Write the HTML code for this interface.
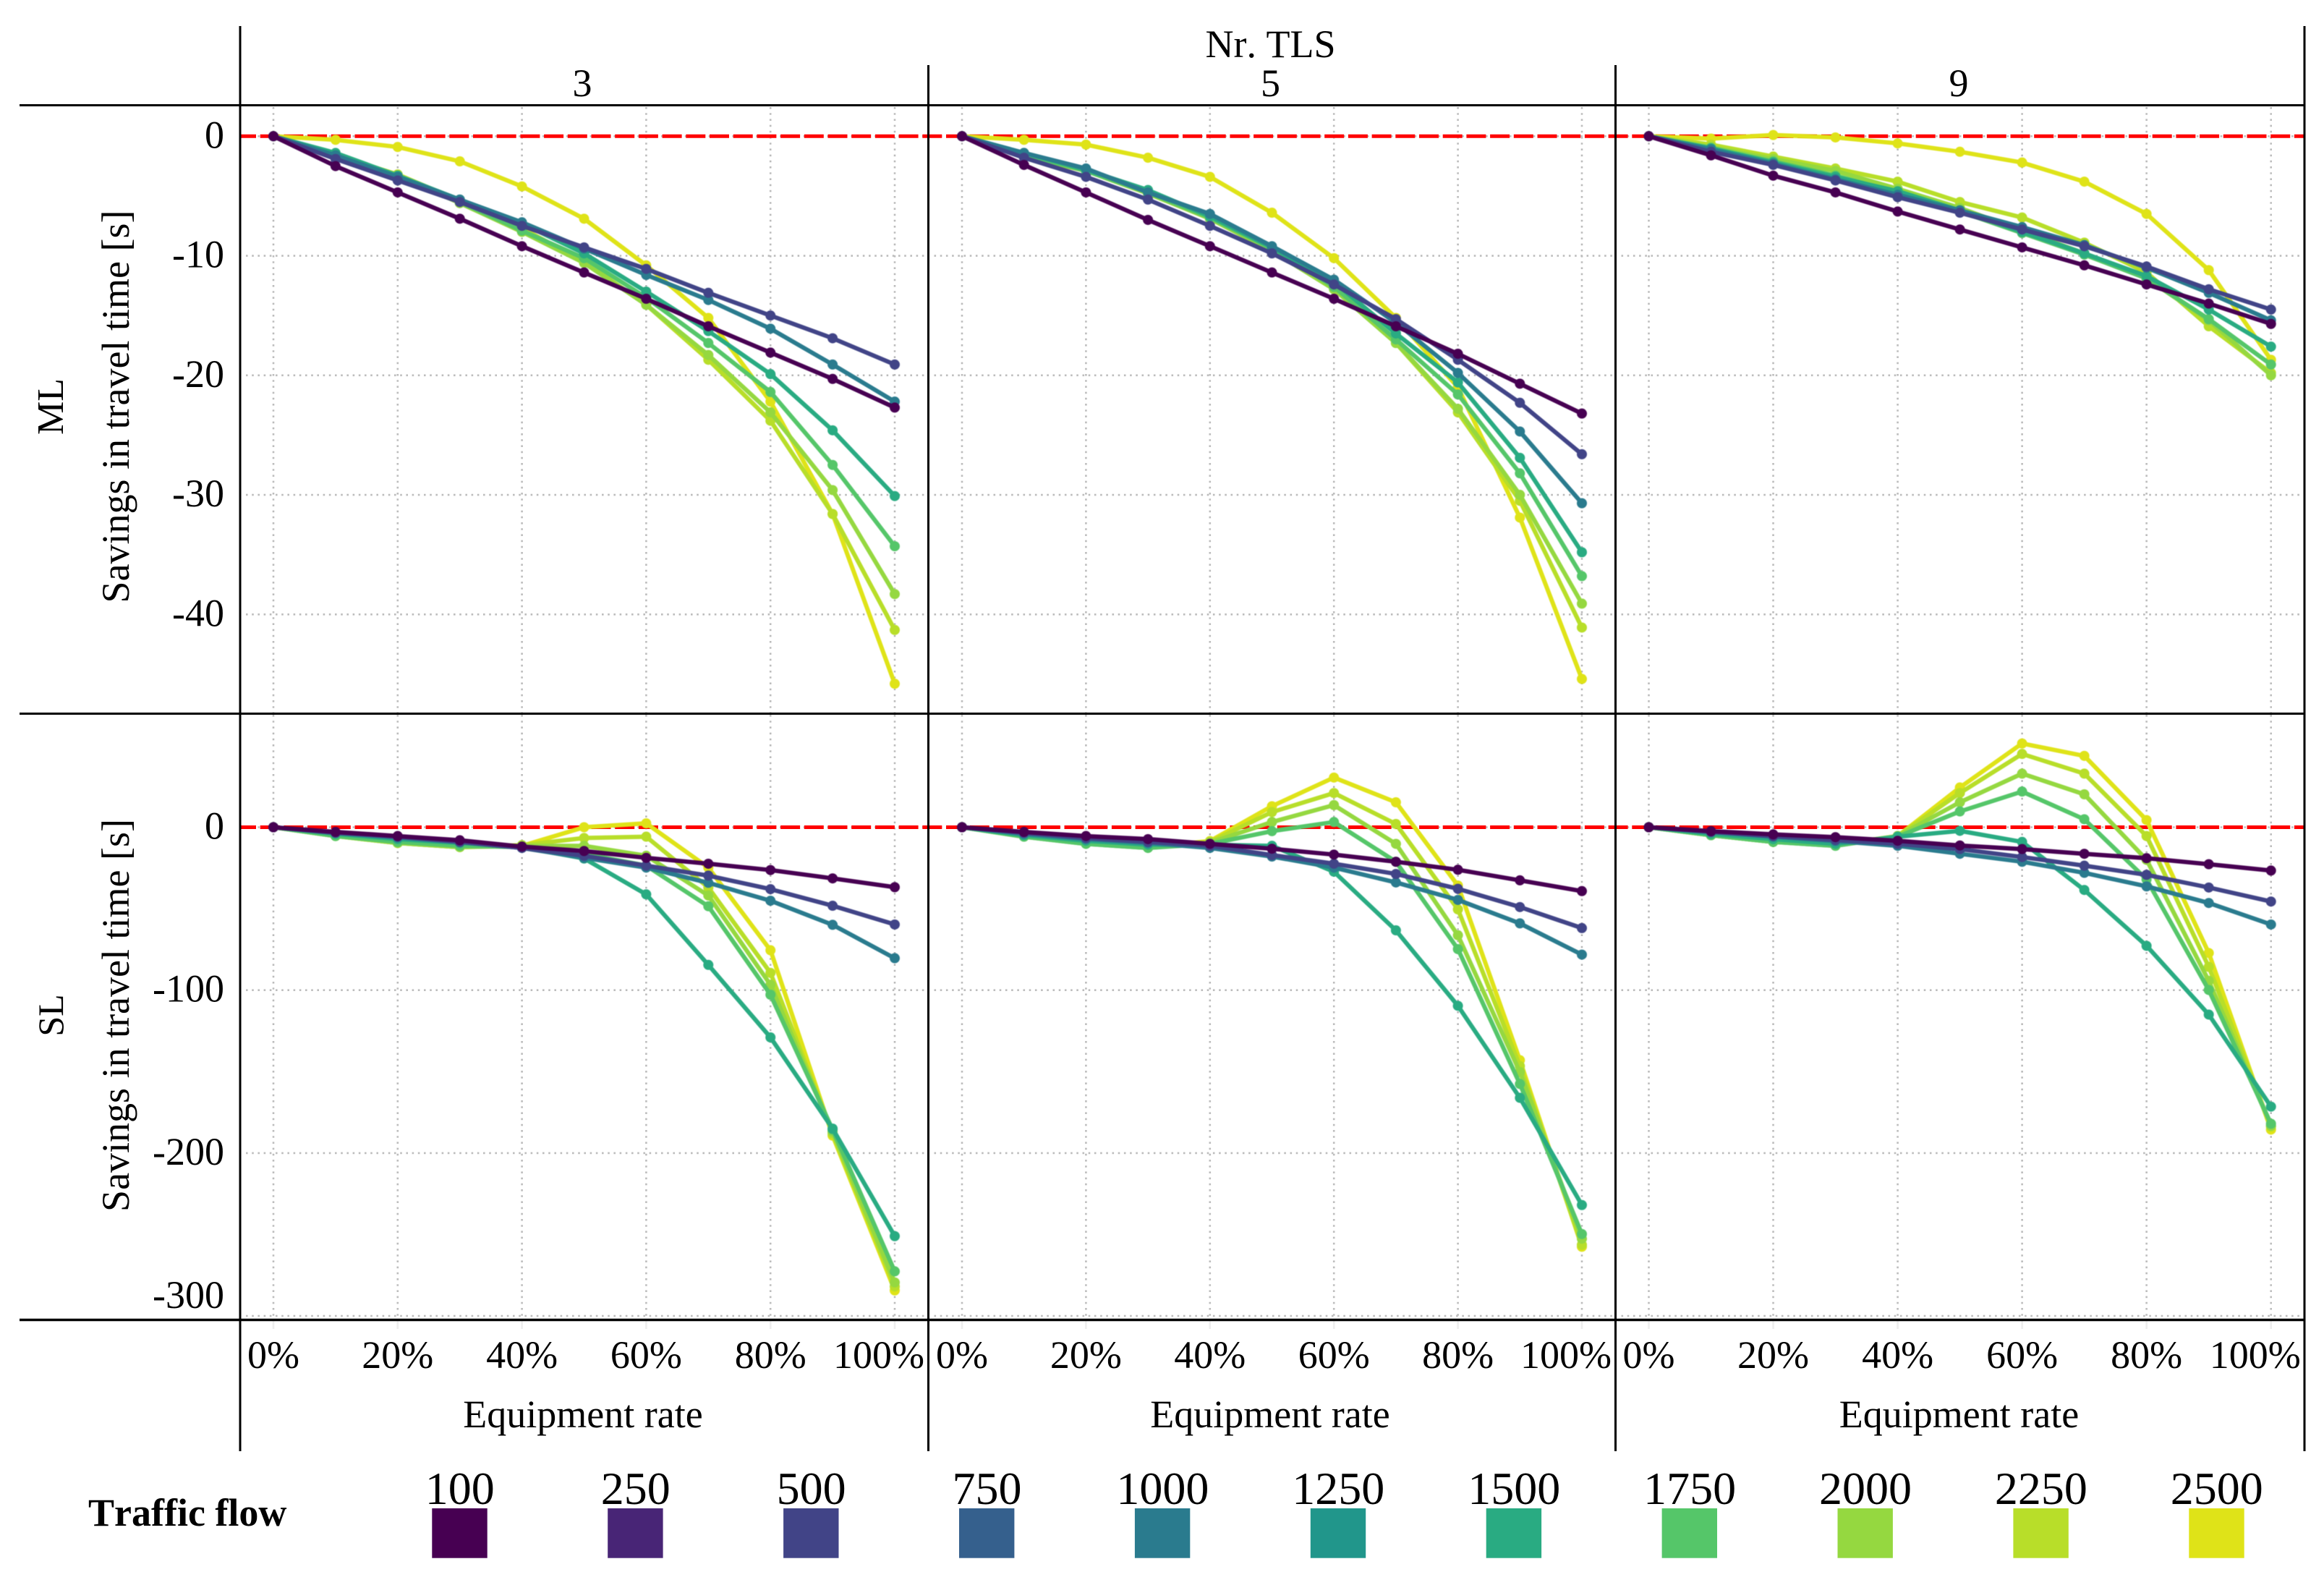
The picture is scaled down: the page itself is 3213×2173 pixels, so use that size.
<!DOCTYPE html>
<html lang="en">
<head>
<meta charset="utf-8">
<title>Savings in travel time by equipment rate</title>
<style>
html,body{margin:0;padding:0;background:#fff;}
svg{display:block;}
text{font-family:"Liberation Serif",serif;fill:#000;font-size:54px;font-kerning:none;font-variant-ligatures:none;}
</style>
</head>
<body>
<svg id="chart" xmlns="http://www.w3.org/2000/svg" width="3213" height="2173" viewBox="0 0 3213 2173">
  <rect x="0" y="0" width="3213" height="2173" fill="#fff"/>
  <g id="grid-layer"></g>
  <g id="reference-layer"></g>
  <g id="series-layer" style="filter:blur(0.6px)"></g>
  <g stroke="#000" stroke-width="3" fill="none">
    <line x1="27" y1="145.5" x2="3187" y2="145.5"/>
    <line x1="27" y1="986.5" x2="3187" y2="986.5"/>
    <line x1="27" y1="1824.5" x2="3187" y2="1824.5" stroke-width="3.5"/>
    <line x1="332" y1="36" x2="332" y2="2006"/>
    <line x1="1283.5" y1="90" x2="1283.5" y2="2006"/>
    <line x1="2233.5" y1="90" x2="2233.5" y2="2006"/>
    <line x1="3186" y1="36" x2="3186" y2="2006"/>
  </g>
  <text x="1756.5" y="79" text-anchor="middle">Nr. TLS</text>
  <text x="805" y="133" text-anchor="middle">3</text>
  <text x="1756.5" y="133" text-anchor="middle">5</text>
  <text x="2708" y="133" text-anchor="middle">9</text>
  <text transform="translate(87,562) rotate(-90)" text-anchor="middle" style="font-size:52px">ML</text>
  <text transform="translate(87,1403.5) rotate(-90)" text-anchor="middle" style="font-size:50px">SL</text>
  <text transform="translate(178,562) rotate(-90)" text-anchor="middle">Savings in travel time [s]</text>
  <text transform="translate(178,1403.5) rotate(-90)" text-anchor="middle">Savings in travel time [s]</text>
  <text x="806" y="1973" text-anchor="middle">Equipment rate</text>
  <text x="1756" y="1973" text-anchor="middle">Equipment rate</text>
  <text x="2708.5" y="1973" text-anchor="middle">Equipment rate</text>
  <g id="tick-layer"></g>
  <text x="122" y="2109" style="font-weight:700">Traffic flow</text>
  <g id="legend-layer"></g>
</svg>
<script>
// Categories and tick labels
const equipmentRates = [0, 10, 20, 30, 40, 50, 60, 70, 80, 90, 100];
const xTickValues = [0, 20, 40, 60, 80, 100];
const xTickLabels = ['0%', '20%', '40%', '60%', '80%', '100%'];
const mlTickValues = [0, -10, -20, -30, -40];
const slTickValues = [0, -100, -200, -300];
const legendFlows = ['100', '250', '500', '750', '1000', '1250', '1500', '1750', '2000', '2250', '2500'];
const plottedFlows = ['100', '500', '1000', '1500', '1750', '2000', '2250', '2500'];

// Series values: one row per plotted flow, same order as plottedFlows
const mlTls3 = [
  [0, -2.5, -4.7, -6.9, -9.2, -11.4, -13.6, -15.9, -18.1, -20.3, -22.7],
  [0, -1.9, -3.7, -5.5, -7.5, -9.3, -11.1, -13.1, -15, -16.9, -19.1],
  [0, -1.6, -3.4, -5.3, -7.2, -9.4, -11.6, -13.7, -16.1, -19.1, -22.2],
  [0, -1.4, -3.3, -5.3, -7.3, -9.8, -13, -16.3, -19.9, -24.6, -30.1],
  [0, -1.5, -3.3, -5.5, -7.9, -10.2, -13.5, -17.3, -21.4, -27.5, -34.3],
  [0, -1.5, -3.3, -5.6, -8, -10.6, -14.1, -18.3, -23.1, -29.6, -38.3],
  [0, -1.6, -3.2, -5.4, -7.7, -10.5, -14.1, -18.7, -23.8, -31.6, -41.3],
  [0, -0.3, -0.9, -2.1, -4.2, -6.9, -10.8, -15.2, -22.2, -31.6, -45.8]
];
const mlTls5 = [
  [0, -2.4, -4.7, -7, -9.2, -11.4, -13.6, -15.9, -18.2, -20.7, -23.2],
  [0, -1.8, -3.4, -5.3, -7.5, -9.8, -12.4, -15.3, -18.7, -22.3, -26.6],
  [0, -1.4, -2.7, -4.7, -6.5, -9.2, -12, -15.6, -19.8, -24.7, -30.7],
  [0, -1.4, -2.8, -4.5, -6.7, -9.3, -12.2, -16.5, -20.6, -26.9, -34.8],
  [0, -1.5, -2.9, -4.7, -6.8, -9.4, -12.6, -17, -21.6, -28.2, -36.8],
  [0, -1.6, -2.9, -4.8, -6.9, -9.6, -12.8, -17.3, -22.8, -30, -39.1],
  [0, -1.7, -2.9, -4.6, -6.7, -9.4, -12.7, -17.3, -23.1, -30.5, -41.1],
  [0, -0.3, -0.7, -1.8, -3.4, -6.4, -10.2, -15.2, -21, -31.9, -45.4]
];
const mlTls9 = [
  [0, -1.6, -3.3, -4.7, -6.3, -7.8, -9.3, -10.8, -12.4, -14, -15.7],
  [0, -1.3, -2.4, -3.7, -5.1, -6.4, -7.8, -9.2, -10.9, -12.8, -14.5],
  [0, -1.1, -2.3, -3.6, -4.9, -6.2, -7.6, -9.1, -11, -13.1, -15.4],
  [0, -1, -2.2, -3.4, -4.6, -6.2, -8, -9.8, -11.7, -14.5, -17.6],
  [0, -1, -2.1, -3.3, -4.7, -6.3, -8.1, -9.9, -11.9, -15.3, -19.1],
  [0, -0.9, -1.9, -2.9, -4.4, -6, -7.9, -9.8, -11.9, -15.4, -20],
  [0, -0.7, -1.7, -2.7, -3.8, -5.5, -6.8, -8.9, -11.4, -15.9, -19.8],
  [0, -0.2, 0.1, -0.1, -0.6, -1.3, -2.2, -3.8, -6.5, -11.2, -18.7]
];
const slTls3 = [
  [0, -2.9, -5.4, -8, -11.9, -14.6, -18.8, -22.4, -26.3, -31.4, -36.8],
  [0, -3.4, -5.8, -9, -12.7, -17.5, -23.6, -29.7, -38, -48.2, -59.7],
  [0, -3.4, -6.3, -9, -12.7, -18.8, -24.8, -34.1, -45.1, -59.9, -80.4],
  [0, -4.1, -7.3, -9.7, -12.2, -19.2, -41.2, -84.5, -129, -185, -251],
  [0, -5.4, -9, -11.4, -12.2, -16.3, -23.6, -48.5, -102.8, -185.6, -272.6],
  [0, -5.4, -9.7, -12.2, -11.4, -11.4, -17.5, -41.9, -96.7, -186.8, -279.4],
  [0, -5.4, -9.7, -12.2, -11, -6.6, -5.8, -37, -89.4, -188, -281.9],
  [0, -5.4, -9.7, -12.2, -11.4, 0, 2.4, -24.8, -75.5, -189.3, -284.3]
];
const slTls5 = [
  [0, -2.9, -5.4, -7.3, -10.2, -13.2, -16.8, -21.2, -26.1, -32.6, -39.2],
  [0, -3.4, -6.6, -9, -11.4, -17.1, -22.4, -28.7, -37.8, -49, -61.9],
  [0, -4.1, -7.3, -9.7, -12.7, -18, -24.8, -33.9, -44.6, -59, -78.2],
  [0, -4.9, -8.3, -10.7, -10.7, -11.4, -27.3, -63.3, -109.6, -166.1, -231.9],
  [0, -5.8, -10.2, -12.7, -10.2, -2.4, 3.2, -21.2, -74.8, -157.6, -249.7],
  [0, -5.8, -10.2, -12.7, -9.5, 3.2, 13.6, -10.2, -66.3, -150.3, -252.6],
  [0, -5.4, -9.7, -12.2, -9, 9.3, 21, 2, -50.4, -146.6, -256.3],
  [0, -5.4, -9.7, -12.2, -8.5, 12.9, 30.5, 15.3, -35.8, -143, -257.5]
];
const slTls9 = [
  [0, -2.4, -4.4, -6.1, -8.3, -11.2, -13.4, -16.3, -19, -22.7, -26.6],
  [0, -2.9, -5.4, -7.8, -10.2, -13.4, -18.3, -23.6, -29.2, -37, -45.6],
  [0, -2.9, -5.8, -8.5, -11.4, -16.3, -21.2, -28, -36.3, -46.5, -59.7],
  [0, -4.1, -7.3, -10.2, -5.8, -2.2, -9, -38.5, -72.8, -115, -171.5],
  [0, -4.9, -9, -11.4, -5.8, 9.7, 21.9, 4.9, -32, -99.9, -182],
  [0, -4.9, -9, -11.4, -5.4, 15.3, 32.9, 20.2, -20, -94.3, -183.2],
  [0, -4.9, -9, -10.7, -5.4, 21, 45, 32.9, -5.4, -85.7, -183.7],
  [0, -4.9, -9, -10.7, -5.4, 24.4, 51.4, 43.8, 4.4, -77.2, -185.6]
];

// Styling lookup, separate from the data
const flowColor = {
  '100': '#470052', '250': '#482576', '500': '#414487', '750': '#35608d',
  '1000': '#2a7b8e', '1250': '#21968b', '1500': '#29ab82', '1750': '#55c669',
  '2000': '#95d840', '2250': '#b8de29', '2500': '#dfe318'
};

const SVG_NS = 'http://www.w3.org/2000/svg';
function make(tag, parent) {
  const el = document.createElementNS(SVG_NS, tag);
  parent.appendChild(el);
  return el;
}

// Axis functions
function xAxis(col, rate) {
  const left = [378, 1330, 2279.5][col];
  const right = [1237, 2187, 3139.7][col];
  return left + (right - left) * rate / 100;
}
function yAxis(row, value) {
  if (row === 0) return 188.3 - value * 16.525;
  return 1143.5 - value * 2.252;
}

const gridLayer = document.getElementById('grid-layer');
const referenceLayer = document.getElementById('reference-layer');
const seriesLayer = document.getElementById('series-layer');
const tickLayer = document.getElementById('tick-layer');
const legendLayer = document.getElementById('legend-layer');

const columnEdges = [[332, 1283.5], [1283.5, 2233.5], [2233.5, 3186]];
const rowEdges = [[148, 985], [988, 1823]];
const rowTicks = [mlTickValues, slTickValues];
const rowNames = ['ml', 'sl'];
const columnNames = ['3', '5', '9'];
const panelData = [[mlTls3, mlTls5, mlTls9], [slTls3, slTls5, slTls9]];

function setGridStyle(line) {
  line.setAttribute('stroke', '#bdbdbd');
  line.setAttribute('stroke-width', '2.6');
  line.setAttribute('stroke-dasharray', '2.6 5.6');
}

// Grid lines
rowTicks.forEach(function (ticks, row) {
  columnEdges.forEach(function (edges, col) {
    ticks.forEach(function (value) {
      const line = make('line', gridLayer);
      
      
      line.setAttribute('x1', edges[0] + 8);
      line.setAttribute('x2', edges[1] - 3);
      line.setAttribute('y1', yAxis(row, value));
      line.setAttribute('y2', yAxis(row, value));
      setGridStyle(line);
    });
    xTickValues.forEach(function (rate) {
      const line = make('line', gridLayer);
      
      
      line.setAttribute('x1', xAxis(col, rate));
      line.setAttribute('x2', xAxis(col, rate));
      line.setAttribute('y1', rowEdges[row][0]);
      line.setAttribute('y2', rowEdges[row][1]);
      setGridStyle(line);
    });
  });
});

// Faint tick stubs under the lower panels
columnEdges.forEach(function (edges, col) {
  xTickValues.forEach(function (rate) {
    const stub = make('line', gridLayer);
    
    
    stub.setAttribute('x1', xAxis(col, rate));
    stub.setAttribute('x2', xAxis(col, rate));
    stub.setAttribute('y1', 1826);
    stub.setAttribute('y2', 1837);
    stub.setAttribute('stroke', '#eeeeee');
    stub.setAttribute('stroke-width', '2.6');
  });
});

// Zero reference lines
rowNames.forEach(function (name, row) {
  const ref = make('line', referenceLayer);
  
  
  ref.setAttribute('x1', 332);
  ref.setAttribute('x2', 3186);
  ref.setAttribute('y1', yAxis(row, 0));
  ref.setAttribute('y2', yAxis(row, 0));
  ref.setAttribute('stroke', '#ff0000');
  ref.setAttribute('stroke-width', '5');
  ref.setAttribute('stroke-dasharray', '27 5.7');
  ref.setAttribute('stroke-dashoffset', '5');
});

// Series: last flow first, so the darkest line ends on top
panelData.forEach(function (rowPanels, row) {
  rowPanels.forEach(function (panelSeries, col) {
    for (let s = panelSeries.length - 1; s >= 0; s--) {
      const flow = plottedFlows[s];
      const values = panelSeries[s];
      const group = make('g', seriesLayer);
      
      
      const points = values.map(function (v, i) {
        return xAxis(col, equipmentRates[i]).toFixed(1) + ',' + yAxis(row, v).toFixed(1);
      }).join(' ');
      const poly = make('polyline', group);
      
      
      poly.setAttribute('points', points);
      poly.setAttribute('fill', 'none');
      poly.setAttribute('stroke', flowColor[flow]);
      poly.setAttribute('stroke-width', '6');
      poly.setAttribute('stroke-linejoin', 'round');
      values.forEach(function (v, i) {
        const dot = make('circle', group);
        
        
        dot.setAttribute('cx', xAxis(col, equipmentRates[i]));
        dot.setAttribute('cy', yAxis(row, v));
        dot.setAttribute('r', '7');
        dot.setAttribute('fill', flowColor[flow]);
      });
    }
  });
});

// Y tick labels
rowTicks.forEach(function (ticks, row) {
  ticks.forEach(function (value) {
    const nudge = value === -300 ? -27 : 0;
    const label = make('text', tickLayer);
    
    
    label.setAttribute('text-anchor', 'end');
    label.setAttribute('x', 310);
    label.setAttribute('y', yAxis(row, value) + 16 + nudge);
    label.textContent = String(value);
  });
});

// X tick labels
columnEdges.forEach(function (edges, col) {
  xTickValues.forEach(function (rate, i) {
    const nudge = rate === 100 ? -22 : 0;
    const label = make('text', tickLayer);
    
    
    label.setAttribute('text-anchor', 'middle');
    label.setAttribute('x', xAxis(col, rate) + nudge);
    label.setAttribute('y', 1891);
    label.textContent = xTickLabels[i];
  });
});

// Legend
function legendX(index) {
  return 597.3 + index * 242.9;
}
legendFlows.forEach(function (flow, i) {
  const entry = make('g', legendLayer);
  
  
  const swatch = make('rect', entry);
  
  
  swatch.setAttribute('x', legendX(i));
  swatch.setAttribute('y', 2085);
  swatch.setAttribute('width', 76.4);
  swatch.setAttribute('height', 68.7);
  swatch.setAttribute('fill', flowColor[flow]);
  const label = make('text', entry);
  
  
  label.setAttribute('x', legendX(i) + 38.5);
  label.setAttribute('y', 2079);
  label.setAttribute('text-anchor', 'middle');
  label.setAttribute('style', 'font-size:64px');
  label.textContent = flow;
});
</script>
</body>
</html>
